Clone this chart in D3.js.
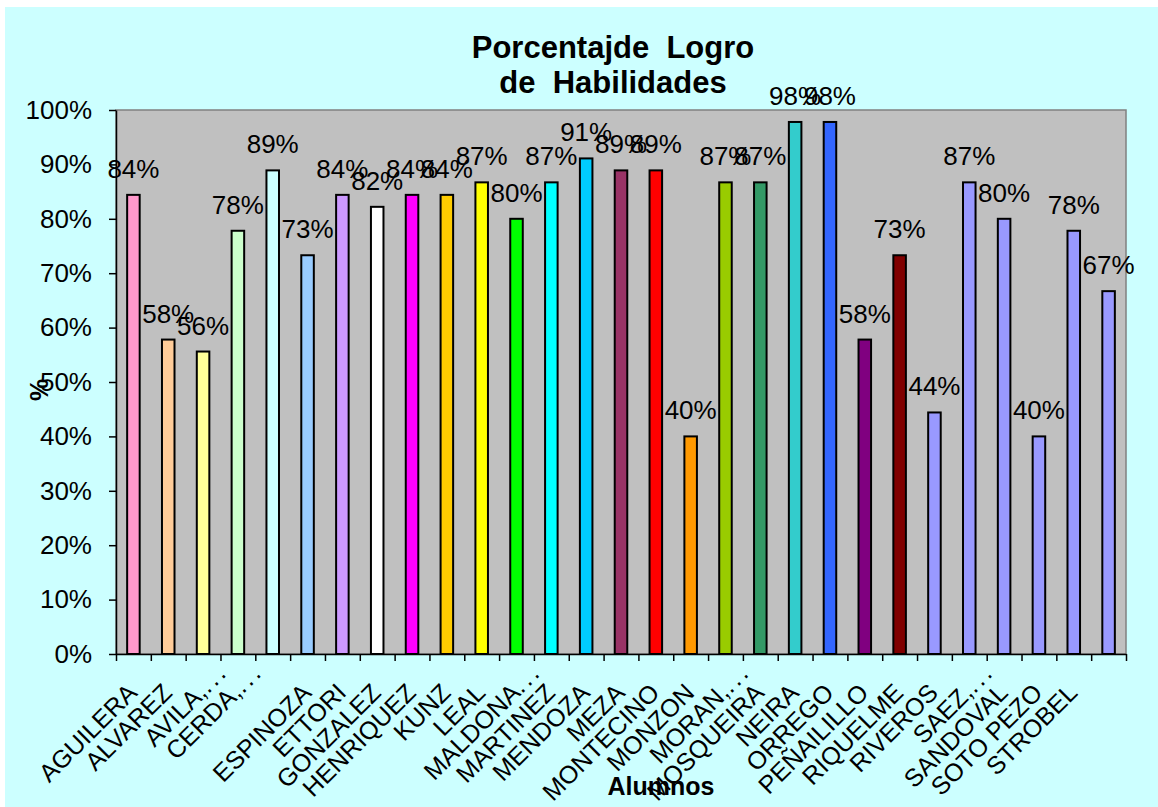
<!DOCTYPE html>
<html><head><meta charset="utf-8">
<script src="https://cdn.jsdelivr.net/npm/d3@7"></script>
<style>body{margin:0;background:#fff}svg{display:block}text{font-family:"Liberation Sans",Arial,sans-serif}</style>
</head><body><svg id="c" width="1158" height="807"></svg>
<script>
const categories = ["AGUILERA","ALVAREZ","AVILA,...","CERDA,...","","ESPINOZA","ETTORI","GONZALEZ","HENRIQUEZ","KUNZ","LEAL","MALDONA...","MARTINEZ","MENDOZA","MEZA","MONTECINO","MONZON","MORAN,...","MOSQUEIRA","NEIRA","ORREGO","PEÑAILILLO","RIQUELME","RIVEROS","SAEZ,...","SANDOVAL","SOTO PEZO","STROBEL",""];
const values = [84.4,57.8,55.6,77.8,88.9,73.3,84.4,82.2,84.4,84.4,86.7,80.0,86.7,91.1,88.9,88.9,40.0,86.7,86.7,97.8,97.8,57.8,73.3,44.4,86.7,80.0,40.0,77.8,66.7];
const colors = ["#FF99CC","#FFCC99","#FFFF99","#CCFFCC","#CCFFFF","#99CCFF","#CC99FF","#FFFFFF","#FF00FF","#FFCC00","#FFFF00","#00FF00","#00FFFF","#00CCFF","#993366","#FF0000","#FF9900","#99CC00","#339966","#33CCCC","#3366FF","#800080","#800000","#9999FF","#9999FF","#9999FF","#9999FF","#9999FF","#9999FF"];
const yTicks = [0,10,20,30,40,50,60,70,80,90,100];
const titleLines = ["Porcentajde  Logro","de  Habilidades"];
const xTitle = "Alumnos";
const yTitle = "%";

const svg = d3.select("#c");
const L=116, R=1126, T=110, B=654;
svg.append("rect").attr("x",5).attr("y",7).attr("width",1153).attr("height",800).attr("fill","#CCFFFF");
const n = values.length;
const xb = d3.scaleBand().domain(d3.range(n)).range([L,R]);
const xl = d3.scaleLinear().domain([0,n]).range([L,R]);
const y = d3.scaleLinear().domain([0,100]).range([B,T]);

svg.append("rect").attr("x",L).attr("y",T).attr("width",R-L).attr("height",B-T)
  .attr("fill","#C0C0C0").attr("stroke","#808080").attr("stroke-width",1.5);

const bw = xb.step()*0.36;
svg.append("g").selectAll("rect").data(values).join("rect")
  .attr("x",(d,i)=>xb(i)+xb.bandwidth()/2-bw/2).attr("y",d=>y(d))
  .attr("width",bw).attr("height",d=>B-y(d))
  .attr("fill",(d,i)=>colors[i]).attr("stroke","#000").attr("stroke-width",2);

svg.append("g").selectAll("text").data(values).join("text")
  .attr("x",(d,i)=>xb(i)+xb.bandwidth()/2).attr("y",d=>y(d)-17)
  .attr("text-anchor","middle").attr("font-size",26).attr("fill","#000")
  .text(d=>Math.round(d)+"%");

// y axis
const ya = svg.append("g").attr("transform",`translate(${L},0)`)
  .call(d3.axisLeft(y).tickValues(yTicks).tickFormat(d=>d+"%").tickSize(7).tickPadding(17).tickSizeOuter(0));
ya.select(".domain").attr("stroke","#000").attr("stroke-width",1.5);
ya.selectAll(".tick line").attr("stroke","#000").attr("stroke-width",1.5);
ya.selectAll("text").attr("font-size",26).attr("fill","#000").attr("font-family","Liberation Sans, Arial");

// x axis ticks at boundaries
const xa = svg.append("g").attr("transform",`translate(0,${B})`)
  .call(d3.axisBottom(xl).tickValues(d3.range(n+1)).tickFormat("").tickSize(7).tickSizeOuter(0));
xa.select(".domain").attr("stroke","#000").attr("stroke-width",1.5);
xa.selectAll(".tick line").attr("stroke","#000").attr("stroke-width",1.5);

// x labels
const xlab = svg.append("g").attr("transform",`translate(0,${B})`)
  .call(d3.axisBottom(xb).tickSize(0).tickFormat(i=>categories[i].replace("...","")));
xlab.select(".domain").remove();
const lblT = "translate(-1,34) rotate(-45)";
xlab.selectAll("text")
  .attr("font-size",25).attr("fill","#000").attr("font-family","Liberation Sans, Arial")
  .attr("text-anchor","end").attr("dy","0.35em").attr("y",0)
  .attr("transform",lblT);
xlab.selectAll(".tick").filter(i=>categories[i].includes("..."))
  .append("text").attr("font-size",25).attr("fill","#000").attr("font-family","Liberation Sans, Arial")
  .attr("text-anchor","start").attr("dy","0.35em").attr("letter-spacing",3)
  .attr("transform",lblT).text("...");

// titles
svg.append("g").selectAll("text").data(titleLines).join("text")
  .attr("x",613).attr("y",(d,i)=>58+i*35).attr("text-anchor","middle")
  .attr("font-size",31).attr("font-weight","bold").attr("xml:space","preserve")
  .style("white-space","pre").text(d=>d);
svg.append("text").attr("x",661).attr("y",795).attr("text-anchor","middle")
  .attr("font-size",25).attr("font-weight","bold").text(xTitle);
svg.append("text").attr("transform","translate(48,390) rotate(-90)").attr("text-anchor","middle")
  .attr("font-size",25).attr("font-weight","bold").text(yTitle);
</script></body></html>
